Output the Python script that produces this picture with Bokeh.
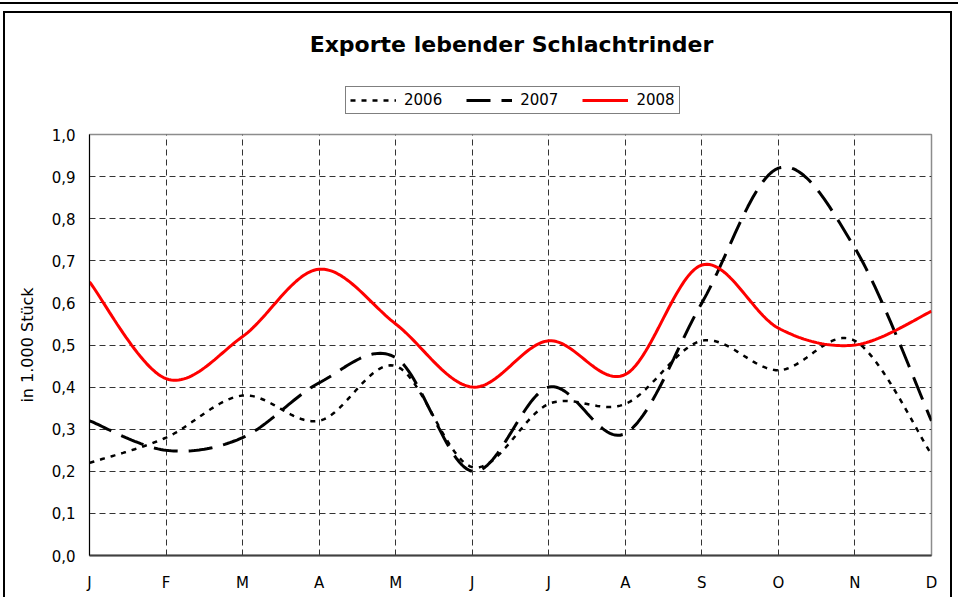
import numpy as np
from bokeh.plotting import figure
from bokeh.models import Range1d, FixedTicker, Legend, Div, Label
from bokeh.embed import file_html
from bokeh.resources import INLINE

# ---- data ----
months = ["J", "F", "M", "A", "M", "J", "J", "A", "S", "O", "N", "D"]
v2006 = [0.22, 0.28, 0.38, 0.32, 0.45, 0.21, 0.36, 0.36, 0.51, 0.44, 0.51, 0.24]
v2007 = [0.32, 0.25, 0.28, 0.41, 0.47, 0.20, 0.40, 0.29, 0.60, 0.92, 0.73, 0.32]
v2008 = [0.65, 0.42, 0.52, 0.68, 0.55, 0.40, 0.51, 0.43, 0.69, 0.54, 0.50, 0.58]
series_names = ["2006", "2007", "2008"]
y_ticks = [i / 10 for i in range(11)]
y_tick_labels = ["0,0", "0,1", "0,2", "0,3", "0,4", "0,5", "0,6", "0,7", "0,8", "0,9", "1,0"]
title_text = "Exporte lebender Schlachtrinder"
y_label = "in 1.000 Stück"

x_pos = list(range(len(months)))

# line styles per series
styles_2006 = dict(line_color="black", line_width=2.5, line_dash="5 6")
styles_2007 = dict(line_color="black", line_width=3, line_dash="24 11")
styles_2008 = dict(line_color="#ff0000", line_width=3)


def smooth_curve(xs, ys, n=30):
    """Excel-like smoothed line: cubic Bezier through the points
    (Catmull-Rom control points), sampled for drawing."""
    P = np.column_stack([np.asarray(xs, float), np.asarray(ys, float)])
    m = len(P)
    out = []
    for i in range(m - 1):
        p0 = P[i - 1] if i > 0 else P[i]
        p1 = P[i]
        p2 = P[i + 1]
        p3 = P[i + 2] if i + 2 < m else P[i + 1]
        c1 = p1 + (p2 - p0) / 6.0
        c2 = p2 - (p3 - p1) / 6.0
        t = np.linspace(0, 1, n, endpoint=(i == m - 2))[:, None]
        seg = ((1 - t) ** 3) * p1 + 3 * ((1 - t) ** 2) * t * c1 + 3 * (1 - t) * t ** 2 * c2 + t ** 3 * p2
        out.append(seg)
    out = np.vstack(out)
    return out[:, 0], out[:, 1]


FONT = "DejaVu Sans"

# ---------------- main chart ----------------
p = figure(
    width=958, height=599,
    x_range=Range1d(0, 11), y_range=Range1d(0, 1),
    output_backend="svg", toolbar_location=None,
    min_border_left=89, min_border_right=27, min_border_top=134, min_border_bottom=44,
    background_fill_color="white", border_fill_color="white",
    styles={"position": "absolute", "left": "0px", "top": "0px"},
)

p.xaxis.ticker = FixedTicker(ticks=x_pos)
p.xaxis.major_label_overrides = {i: m for i, m in zip(x_pos, months)}
p.yaxis.ticker = FixedTicker(ticks=y_ticks)
p.yaxis.major_label_overrides = {t: l for t, l in zip(y_ticks, y_tick_labels)}
for ax in (p.xaxis[0], p.yaxis[0]):
    ax.major_tick_in = 0
    ax.major_tick_out = 0
    ax.minor_tick_in = 0
    ax.minor_tick_out = 0
    ax.major_label_text_font = FONT
    ax.major_label_text_font_size = "15px"
    ax.major_label_text_color = "black"
p.xaxis.major_label_standoff = 18
p.yaxis.major_label_standoff = 14
p.xaxis.axis_line_color = "#404040"
p.xaxis.axis_line_width = 2
p.yaxis.axis_line_color = "black"
p.yaxis.axis_line_width = 1
p.yaxis.axis_label = y_label
p.yaxis.axis_label_text_font = FONT
p.yaxis.axis_label_text_font_size = "16px"
p.yaxis.axis_label_text_font_style = "normal"
p.yaxis.axis_label_text_color = "black"
p.yaxis.axis_label_standoff = 12

for g in (p.xgrid[0], p.ygrid[0]):
    g.grid_line_color = "#333333"
    g.grid_line_dash = "6 4"
    g.grid_line_width = 1
    g.grid_line_alpha = 1.0

p.outline_line_color = "#8c8c8c"
p.outline_line_width = 1.5

sx, sy = smooth_curve(x_pos, v2006)
p.line(sx, sy, **styles_2006)
sx, sy = smooth_curve(x_pos, v2007)
p.line(sx, sy, **styles_2007)
sx, sy = smooth_curve(x_pos, v2008)
p.line(sx, sy, **styles_2008)

# ---------------- header: title + legend (transparent overlay) ----------------
HEAD_H = 125
h = figure(
    width=958, height=HEAD_H,
    x_range=Range1d(0, 958), y_range=Range1d(HEAD_H, 0),
    x_axis_type=None, y_axis_type=None,
    output_backend="svg", toolbar_location=None,
    min_border=0, min_border_left=0, min_border_right=0, min_border_top=0, min_border_bottom=0,
    background_fill_alpha=0, border_fill_alpha=0, outline_line_color=None,
    styles={"position": "absolute", "left": "0px", "top": "0px", "pointer-events": "none"},
)
h.grid.visible = False

h.add_layout(Label(x=511, y=44, text=title_text, text_align="center", text_baseline="middle",
                   text_font=FONT, text_font_size="22px", text_font_style="bold",
                   text_color="black"))

# legend proxies (lying outside the header's visible range, only their style is used)
proxy_x = [-100, -90]
proxy_y = [-100, -100]
l1 = h.line(proxy_x, proxy_y, **styles_2006)
l2 = h.line(proxy_x, proxy_y, **styles_2007)
l3 = h.line(proxy_x, proxy_y, **styles_2008)
legend = Legend(
    items=[(series_names[0], [l1]), (series_names[1], [l2]), (series_names[2], [l3])],
    location=(345, HEAD_H - 114), orientation="horizontal",
    glyph_width=46, glyph_height=16, label_height=16, label_standoff=8,
    spacing=24, padding=4, margin=0,
    label_text_font=FONT, label_text_font_size="15px", label_text_color="black",
    border_line_color="black", border_line_width=1,
    background_fill_color="white", background_fill_alpha=1.0,
)
h.add_layout(legend, "center")

# ---------------- outer chart frame and the line above it ----------------
frame = Div(width=949, height=586, margin=0, styles={
    "position": "absolute", "left": "3px", "top": "11px",
    "border-left": "2px solid black", "border-top": "2px solid black",
    "border-right": "2px solid black", "background": "transparent",
    "pointer-events": "none",
})
topline = Div(width=958, height=0, margin=0, styles={
    "position": "absolute", "left": "0px", "top": "2px",
    "border-top": "2px solid black", "background": "transparent",
    "pointer-events": "none",
})

open("out.html", "w").write(file_html([p, h, frame, topline], INLINE, title="Exporte lebender Schlachtrinder"))
